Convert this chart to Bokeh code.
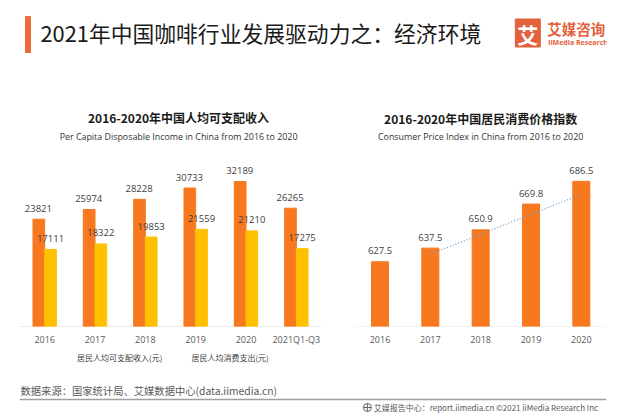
from bokeh.plotting import figure
from bokeh.models import (FactorRange, Range1d, ColumnDataSource, LabelSet, Label,
                          Legend, LegendItem)
from bokeh.transform import dodge
from bokeh.layouts import column
from bokeh.embed import file_html
from bokeh.resources import INLINE
from bokeh.core.properties import value

# ---------------- data ----------------
years = ["2016", "2017", "2018", "2019", "2020", "2021Q1-Q3"]
income = [23821, 25974, 28228, 30733, 32189, 26265]
spending = [17111, 18322, 19853, 21559, 21210, 17275]
income_label = "居民人均可支配收入(元)"
spending_label = "居民人均消费支出(元)"

cpi_years = ["2016", "2017", "2018", "2019", "2020"]
cpi = [627.5, 637.5, 650.9, 669.8, 686.5]
trend_years = ["2017", "2020"]
trend_cpi = [633.0, 677.0]

main_title = "2021年中国咖啡行业发展驱动力之：经济环境"
left_title = "2016-2020年中国人均可支配收入"
left_sub = "Per Capita Disposable Income in China from 2016 to 2020"
right_title = "2016-2020年中国居民消费价格指数"
right_sub = "Consumer Price Index in China from 2016 to 2020"
source_text = "数据来源：国家统计局、艾媒数据中心(data.iimedia.cn)"
footer_text = "艾媒报告中心：report.iimedia.cn   ©2021  iiMedia Research  Inc"

# ---------------- style ----------------
ORANGE = "#F7781F"
YELLOW = "#FFC000"
BRAND = "#E3623D"
CJK = "Noto Sans CJK SC"
LAT = "Open Sans"
LBL = "#404040"
FRAME_L, FRAME_R = 19, 606.2   # shared frame edges of the stacked figures (px)
FRAME_H = 236                  # chart frame height (px)
L_PX = 145 / 32189             # left chart: pixels per unit
R_PX = 1.363                   # right chart: pixels per unit
R0 = 580                       # right chart axis start
GROUP_PAD = 0.662              # gap between the two charts (in category widths)


def clean(p):
    p.outline_line_color = None
    p.background_fill_color = "white"
    p.border_fill_color = "white"
    p.grid.visible = False
    return p


# ---------------- header ----------------
hd = clean(figure(width=640, height=90, x_range=Range1d(FRAME_L, FRAME_R), y_range=Range1d(90, 0),
                  x_axis_location=None, y_axis_location=None, min_border=0,
                  output_backend="svg", toolbar_location=None))
hd.quad(left=[25], right=[30], top=[16], bottom=[52], color="#EF6A3F")
hd.text(x=[40], y=[32], text=[main_title], text_font=value(CJK), text_font_size="21.8px",
        text_baseline="middle", text_color="#1a1a1a")
hd.quad(left=[515], right=[540], top=[18.5], bottom=[46.5], color=BRAND)
hd.text(x=[527.5], y=[33], text=["艾"], text_font=value(CJK), text_font_size="21px",
        text_font_style="bold", text_align="center", text_baseline="middle", text_color="white")
hd.text(x=[547], y=[28], text=["艾媒咨询"], text_font=value(CJK), text_font_size="14.5px",
        text_font_style="bold", text_baseline="middle", text_color=BRAND)
hd.text(x=[548], y=[41.5], text=["iiMedia Research"], text_font=value(LAT), text_font_size="7px",
        text_font_style="bold", text_baseline="middle", text_color=BRAND)

# ---------------- both charts in one figure ----------------
left_x = [("L", y) for y in years]
right_x = [("R", y) for y in cpi_years]
lsrc = ColumnDataSource(dict(x=left_x, income=income, spending=spending,
                             income_txt=[str(v) for v in income],
                             spending_txt=[str(v) for v in spending]))
rsrc = ColumnDataSource(dict(x=right_x, cpi=cpi, cpi_txt=[f"{v:.1f}" for v in cpi]))

xr = FactorRange(factors=left_x + right_x, group_padding=GROUP_PAD, range_padding=0)
p = clean(figure(width=640, height=260, x_range=xr, y_range=Range1d(0, FRAME_H / L_PX),
                 y_axis_location=None, min_border_left=19, min_border_right=34,
                 min_border_top=0, min_border_bottom=24,
                 output_backend="svg", toolbar_location=None))
p.extra_y_ranges = {"cpi": Range1d(R0, R0 + FRAME_H / R_PX)}

# baselines under each chart
n_l, n_r = len(years), len(cpi_years)
p.segment(x0=[0], x1=[n_l], y0=[0], y1=[0], line_color="#d9d9d9", line_width=1)
p.segment(x0=[n_l + GROUP_PAD], x1=[n_l + GROUP_PAD + n_r], y0=[R0], y1=[R0],
          line_color="#e8e8e8", line_width=1, y_range_name="cpi")

# left: income / spending
p.vbar(x=dodge("x", -0.116, range=xr), top="income", width=0.232, source=lsrc, color=ORANGE)
p.vbar(x=dodge("x", 0.116, range=xr), top="spending", width=0.232, source=lsrc, color=YELLOW)
for col, txt, off in (("income", "income_txt", -0.125), ("spending", "spending_txt", 0.116)):
    p.add_layout(LabelSet(x=dodge("x", off, range=xr), y=col, text=txt, source=lsrc,
                          text_align="center", text_baseline="middle", y_offset=11,
                          text_font=value(LAT), text_font_size="9.5px", text_color=LBL))

# right: CPI
p.vbar(x="x", top="cpi", bottom=R0, width=0.338, source=rsrc, color=ORANGE, y_range_name="cpi")
p.line(x=[("R", y) for y in trend_years], y=trend_cpi, line_color="#6FA0D0", line_dash="1 2",
       line_width=1.3, y_range_name="cpi")
p.add_layout(LabelSet(x="x", y="cpi", text="cpi_txt", source=rsrc, y_range_name="cpi",
                      text_align="center", text_baseline="middle", y_offset=11,
                      text_font=value(LAT), text_font_size="9.5px", text_color=LBL))

# chart titles
lc = n_l / 2 + 0.16
rc = n_l + GROUP_PAD + n_r / 2
p.add_layout(Label(x=lc, y=209 / L_PX, text=left_title, text_align="center",
                   text_baseline="middle", text_font=CJK, text_font_size="12px",
                   text_font_style="bold", text_color="#1a1a1a"))
p.add_layout(Label(x=lc, y=190 / L_PX, text=left_sub, text_align="center",
                   text_baseline="middle", text_font=LAT, text_font_size="8.9px",
                   text_color="#333333"))
p.add_layout(Label(x=rc, y=R0 + 208 / R_PX, y_range_name="cpi", text=right_title,
                   text_align="center", text_baseline="middle", text_font=CJK,
                   text_font_size="12px", text_font_style="bold", text_color="#1a1a1a"))
p.add_layout(Label(x=rc, y=R0 + 190 / R_PX, y_range_name="cpi", text=right_sub,
                   text_align="center", text_baseline="middle", text_font=LAT,
                   text_font_size="8.9px", text_color="#333333"))

ax = p.xaxis[0]
ax.axis_line_color = None
ax.major_tick_line_color = None
ax.minor_tick_line_color = None
ax.major_tick_out = 0
ax.major_tick_in = 0
ax.major_label_standoff = 6
ax.major_label_text_font = LAT
ax.major_label_text_font_size = "9px"
ax.major_label_text_color = "#595959"
ax.group_text_color = None
ax.group_text_font_size = "1px"
ax.separator_line_color = None

# ---------------- footer (legend + source) ----------------
ft = clean(figure(width=640, height=66, x_range=Range1d(FRAME_L, FRAME_R), y_range=Range1d(416, 350),
                  x_axis_location=None, y_axis_location=None, min_border=0,
                  output_backend="svg", toolbar_location=None))
k1 = ft.vbar(x=[], top=[], width=1, color=ORANGE)
k2 = ft.vbar(x=[], top=[], width=1, color=YELLOW)
legend = Legend(items=[LegendItem(label=income_label, renderers=[k1]),
                       LegendItem(label=spending_label, renderers=[k2])],
                orientation="horizontal", location=(48, 53),
                label_text_font=CJK, label_text_font_size="8px", label_text_color=LBL,
                glyph_width=6, glyph_height=6, label_standoff=4, spacing=19,
                padding=0, margin=0, border_line_color=None, background_fill_alpha=0)
ft.add_layout(legend)
ft.text(x=[20], y=[390], text=[source_text], text_font=value(CJK), text_font_size="10.3px",
        text_baseline="middle", text_color="#595959")
ft.segment(x0=[FRAME_L], y0=[399], x1=[FRAME_R], y1=[399], line_color="#a0a0a0", line_width=1.5)
ft.scatter(x=[367], y=[407], marker="circle_cross", size=8, line_color="#666666",
           fill_color=None)
ft.text(x=[605], y=[407], text=[footer_text], text_font=value(CJK), text_font_size="8px",
        text_align="right", text_baseline="middle", text_color="#595959")

layout = column(hd, p, ft)
open("out.html", "w").write(file_html(layout, INLINE))
